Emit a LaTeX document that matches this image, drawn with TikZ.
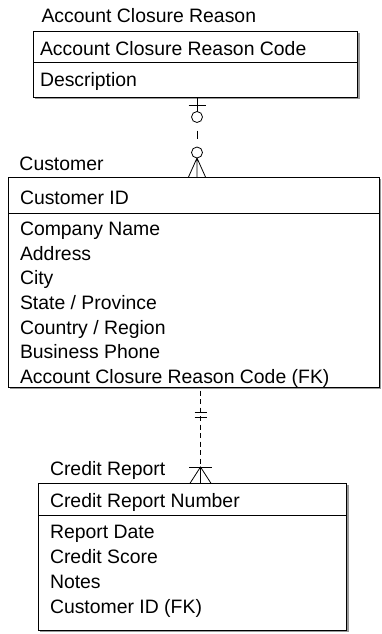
\documentclass[tikz,border=0pt]{standalone}
\usepackage{fontspec}
\setmainfont{Liberation Sans}
\usetikzlibrary{positioning,shadows}

\tikzset{
  every node/.style={inner sep=0pt, outer sep=0pt},
  box/.style={draw, line width=0.9pt, fill=white, anchor=north west,
    drop shadow={shadow xshift=2pt, shadow yshift=-2pt, fill=black!40, opacity=1}},
  field/.style={anchor=base west, font=\fontsize{19.4}{24.6}\selectfont},
  link/.style={line width=0.8pt},
  ring/.style={circle, draw, line width=0.8pt, fill=white, minimum size=11pt},
}

\begin{document}
\begin{tikzpicture}[x=1pt, y=-1pt]
\useasboundingbox (0,0) rectangle (381,634);

% Account Closure Reason
\node[field] (acrTitle) at (41.5,22.7) {Account Closure Reason};
\node[box, minimum width=324.4pt, minimum height=31pt] (acrKey) at (33.3,31) {};
\node[box, minimum width=324.4pt, minimum height=35pt, below=0pt of acrKey] (acrAttr) {};
\node[field] (acrCode) at (40,56) {Account Closure Reason Code};
\node[field] (acrDesc) at (40,86.7) {Description};

% Customer
\node[field] (cuTitle) at (19.5,170.7) {Customer};
\node[box, minimum width=371pt, minimum height=36pt] (cuKey) at (8.3,177) {};
\node[box, minimum width=371pt, minimum height=174pt, below=0pt of cuKey] (cuAttr) {};
\node[field] (cuId) at (20,204) {Customer ID};
\foreach \t [count=\i from 0] in {Company Name,Address,City,State / Province,Country / Region,Business Phone,{Account Closure Reason Code (FK)}} {
  \node[field] (cu\i) at (20,235.6+24.6*\i) {\t};
}

% Credit Report
\node[field] (crTitle) at (50,475) {Credit Report};
\node[box, minimum width=308.4pt, minimum height=31.7pt] (crKey) at (38.3,483.3) {};
\node[box, minimum width=308.4pt, minimum height=115pt, below=0pt of crKey] (crAttr) {};
\node[field] (crNum) at (50,507.3) {Credit Report Number};
\foreach \t [count=\i from 0] in {Report Date,Credit Score,Notes,{Customer ID (FK)}} {
  \node[field] (cr\i) at (50,538.3+25*\i) {\t};
}

% Account Closure Reason -- Customer (zero or one to zero or many)
\node[ring] (acrRing) at (197,117) {};
\node[ring] (cuRing) at (197,152.5) {};
\draw[link] (acrAttr.south -| acrRing) -- (acrRing);
\draw[link] (acrRing.north) ++(-8.5,-6.5) -- ++(17,0);
\draw[link, dash pattern=on 8pt off 8.5pt, dash phase=8.5pt] (acrRing) -- (cuRing);
\draw[link] (cuRing.south) -- ++(-8.5,19) (cuRing.south) -- (cuKey.north -| cuRing) (cuRing.south) -- ++(8.5,19);

% Customer -- Credit Report (one to one or many)
\coordinate (crossTwo) at (200.5,400);
\draw[link, dash pattern=on 5pt off 3.5pt, dash phase=5pt] (cuAttr.south -| crossTwo) -- ++(0,80);
\draw[link] (cuAttr.south -| crossTwo) ++(-6,25) -- ++(12,0) ++(-12,5) -- ++(12,0);
\draw[link] (crKey.north -| crossTwo) ++(-11.5,-16.3) -- ++(23,0);
\draw[link] (crKey.north -| crossTwo) ++(-10.5,0) -- ++(10.5,-16.3) -- ++(10.5,16.3);
\draw[link] (crKey.north -| crossTwo) -- ++(0,-16.3);
\end{tikzpicture}
\end{document}
